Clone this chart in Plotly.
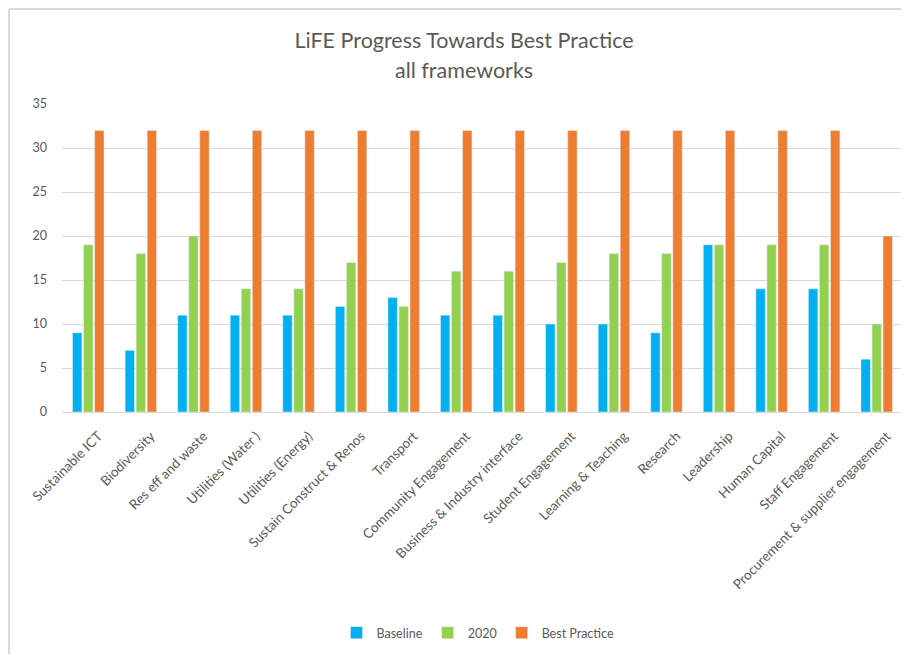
import plotly.graph_objects as go

categories = ["Sustainable ICT", "Biodiversity", "Res eff and waste", "Utilities (Water )",
              "Utilities (Energy)", "Sustain Construct & Renos", "Transport",
              "Community Engagement", "Business & Industry interface", "Student Engagement",
              "Learning & Teaching", "Research", "Leadership", "Human Capital",
              "Staff Engagement", "Procurement & supplier engagement"]
baseline = [9, 7, 11, 11, 11, 12, 13, 11, 11, 10, 10, 9, 19, 14, 14, 6]
y2020 = [19, 18, 20, 14, 14, 17, 12, 16, 16, 17, 18, 18, 19, 19, 19, 10]
best_practice = [32, 32, 32, 32, 32, 32, 32, 32, 32, 32, 32, 32, 32, 32, 32, 20]
y_ticks = [0, 5, 10, 15, 20, 25, 30, 35]

FONT = "Lato"
GRAY = "#595959"

fig = go.Figure()
fig.add_trace(go.Bar(name="Baseline", x=categories, y=baseline, marker_color="#00B0F0"))
fig.add_trace(go.Bar(name="2020", x=categories, y=y2020, marker_color="#92D050"))
fig.add_trace(go.Bar(name="Best Practice", x=categories, y=best_practice, marker_color="#ED7D31"))

# page body adds an 8px offset; figure coordinates = screen - 8
OFF = 8
W, H = 909 - OFF, 654 - OFF
L, T = 62 - OFF, 104 - OFF
R = W - (903 - OFF)
B = H - (412 - OFF)
pw = W - L - R
ph = H - T - B


def px_x(x):
    return (x - OFF - L) / pw


def px_y(y):
    return (H - B - (y - OFF)) / ph


fig.update_layout(
    width=W, height=H,
    margin=dict(l=L, r=R, t=T, b=B, autoexpand=False),
    paper_bgcolor="white", plot_bgcolor="white",
    barmode="group", bargap=0.37, bargroupgap=0.15,
    font=dict(family=FONT, color=GRAY, size=12),
    title=dict(text="LiFE Progress Towards Best Practice",
               x=(464 - OFF) / W, xref="container", xanchor="center",
               y=1 - (40 - OFF) / H, yref="container", yanchor="middle",
               font=dict(family=FONT, size=21.5, color=GRAY)),
    annotations=[dict(text="all frameworks", xref="paper", yref="paper",
                      x=px_x(464), y=px_y(70), xanchor="center", yanchor="middle",
                      showarrow=False, font=dict(family=FONT, size=21.5, color=GRAY))],
    legend=dict(orientation="h", x=px_x(478), xanchor="center", y=px_y(633), yanchor="middle",
                font=dict(family=FONT, size=12.5, color=GRAY), itemwidth=30,
                traceorder="normal"),
    xaxis=dict(tickangle=-45, tickfont=dict(family=FONT, size=13.5, color=GRAY),
               showgrid=False, showline=True, linecolor="#d9d9d9", ticks="",
               ticklabelstandoff=10, ticklabelshift=10),
    yaxis=dict(range=[0, 35], tickvals=y_ticks, showgrid=True, gridcolor="#d9d9d9",
               gridwidth=1, zeroline=False, ticks="", ticklabelstandoff=14,
               tickfont=dict(family=FONT, size=12.5, color=GRAY)),
    shapes=[
        dict(type="line", xref="paper", yref="paper", x0=px_x(OFF + 1), x1=px_x(909),
             y0=px_y(OFF + 1), y1=px_y(OFF + 1), line=dict(color="#d9d9d9", width=2)),
        dict(type="line", xref="paper", yref="paper", x0=px_x(OFF + 1), x1=px_x(OFF + 1),
             y0=px_y(OFF + 1), y1=px_y(654), line=dict(color="#d9d9d9", width=2)),
    ],
)

fig.write_html("out.html")
